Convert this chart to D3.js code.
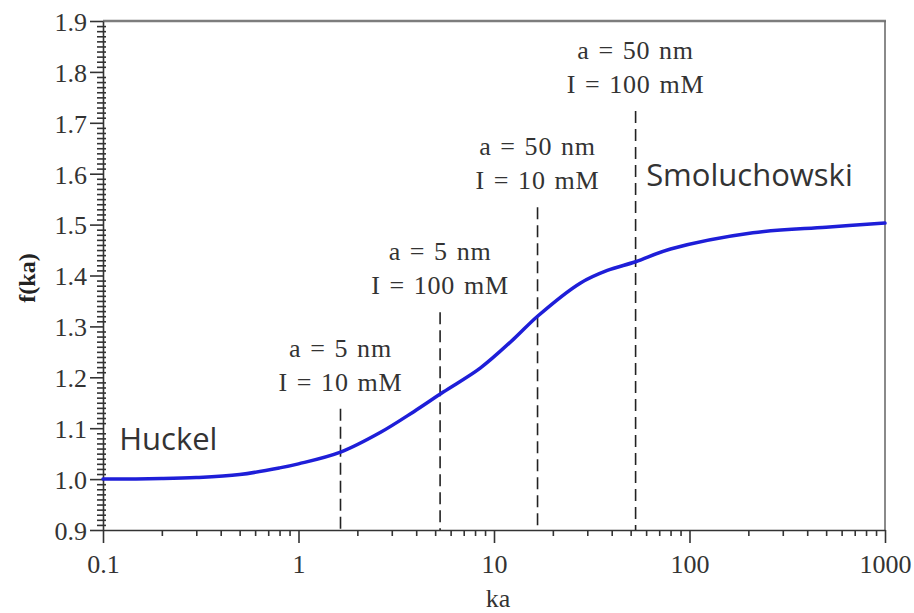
<!DOCTYPE html>
<html>
<head>
<meta charset="utf-8">
<script src="https://cdn.jsdelivr.net/npm/d3@7"></script>
<style>
  html, body { margin: 0; padding: 0; background: #fff; }
  svg { display: block; }
</style>
</head>
<body>
<svg id="chart" width="914" height="613"></svg>
<script>
// ---- data ----
const kaValues = [0.1, 0.2, 0.3, 0.5, 0.8, 1, 1.64, 2.63, 3.87, 5.5, 8.5, 12.6, 16.7, 27.6, 38, 53, 80, 211, 500, 1000];
const fValues  = [1.000, 1.001, 1.003, 1.009, 1.022, 1.030, 1.053, 1.092, 1.132, 1.171, 1.218, 1.275, 1.320, 1.385, 1.410, 1.427, 1.452, 1.484, 1.495, 1.503];
const markerKa    = [1.64, 5.3, 16.7, 53];
const markerTop   = [1.138, 1.328, 1.534, 1.723];
const markerLine1 = ["a = 5 nm", "a = 5 nm", "a = 50 nm", "a = 50 nm"];
const markerLine2 = ["I = 10 mM", "I = 100 mM", "I = 10 mM", "I = 100 mM"];
const xMajorTicks = [0.1, 1, 10, 100, 1000];
const xTickLabels = ["0.1", "1", "10", "100", "1000"];
const yMajorTicks = [0.9, 1.0, 1.1, 1.2, 1.3, 1.4, 1.5, 1.6, 1.7, 1.8, 1.9];
const yTickLabels = ["0.9", "1.0", "1.1", "1.2", "1.3", "1.4", "1.5", "1.6", "1.7", "1.8", "1.9"];
const regionLabels = ["Huckel", "Smoluchowski"];
const regionKa = [0.121, 60];
const regionF  = [1.057, 1.575];

// ---- layout ----
const svg = d3.select("#chart");
const L = 103, R = 885, T = 21, B = 530;
const x = d3.scaleLog().domain([0.1, 1000]).range([L, R]);
const y = d3.scaleLinear().domain([0.9, 1.9]).range([B, T]);
const serif = "'Liberation Serif', 'Times New Roman', serif";
const sans = "'Open Sans', 'Noto Sans', sans-serif";

// minor ticks
const xMinor = [];
[0.1, 1, 10, 100].forEach(d => { for (let k = 2; k <= 9; k++) xMinor.push(d * k); });
const yMinor = d3.range(90, 191).map(v => v / 100).filter(v => Math.round(v * 100) % 10 !== 0);

// frame: top and right lines (grey)
svg.append("line").attr("x1", L).attr("x2", R + 1).attr("y1", T).attr("y2", T)
  .attr("stroke", "#7d7d7d").attr("stroke-width", 2.5);
svg.append("line").attr("x1", R).attr("x2", R).attr("y1", T).attr("y2", B)
  .attr("stroke", "#6d6d6d").attr("stroke-width", 1.6);

// x axis
const gxMinor = svg.append("g").attr("transform", `translate(0,${B})`)
  .call(d3.axisBottom(x).tickValues(xMinor).tickSize(6).tickFormat(""));
gxMinor.select(".domain").remove();
const gx = svg.append("g").attr("transform", `translate(0,${B})`)
  .call(d3.axisBottom(x).tickValues(xMajorTicks).tickSize(13).tickSizeOuter(0)
    .tickFormat((d, i) => xTickLabels[i]));
gx.selectAll("text").attr("font-family", serif).attr("font-size", 26).attr("fill", "#333").attr("dy", "1.05em");

// y axis
const gyMinor = svg.append("g").attr("transform", `translate(${L + 3},0)`)
  .call(d3.axisLeft(y).tickValues(yMinor).tickSize(9).tickFormat(""));
gyMinor.select(".domain").remove();
const gy = svg.append("g").attr("transform", `translate(${L},0)`)
  .call(d3.axisLeft(y).tickValues(yMajorTicks).tickSize(13).tickSizeOuter(0)
    .tickFormat((d, i) => yTickLabels[i]));
gy.selectAll("text").attr("font-family", serif).attr("font-size", 26).attr("fill", "#333").attr("dy", "0.36em").attr("x", -16);

svg.selectAll(".domain").attr("stroke", "#333").attr("stroke-width", 1.6);
svg.selectAll(".tick line").attr("stroke", "#333").attr("stroke-width", 1.6);

// dashed marker lines
markerKa.forEach((k, i) => {
  svg.append("line")
    .attr("x1", x(k)).attr("x2", x(k))
    .attr("y1", y(markerTop[i])).attr("y2", B)
    .attr("stroke", "#222").attr("stroke-width", 1.6)
    .attr("stroke-dasharray", "12,6");
  const t = svg.append("text")
    .attr("x", x(k)).attr("y", y(markerTop[i]) - 52)
    .attr("text-anchor", "middle")
    .attr("font-family", serif).attr("font-size", 26).attr("fill", "#333")
    .attr("letter-spacing", 0.8).attr("word-spacing", 1.5);
  t.append("tspan").attr("x", x(k)).text(markerLine1[i]);
  t.append("tspan").attr("x", x(k)).attr("dy", 34).text(markerLine2[i]);
});

// curve
const pts = kaValues.map((k, i) => [k, fValues[i]]);
svg.append("path")
  .datum(pts)
  .attr("fill", "none")
  .attr("stroke", "#1e1ed8")
  .attr("stroke-width", 3.5)
  .attr("stroke-linecap", "round")
  .attr("d", d3.line().x(d => x(d[0])).y(d => y(d[1])).curve(d3.curveCatmullRom.alpha(0.5)));

// region labels
regionLabels.forEach((lab, i) => {
  svg.append("text")
    .attr("x", x(regionKa[i])).attr("y", y(regionF[i]))
    .attr("font-family", sans).attr("font-size", 31).attr("fill", "#333")
    .text(lab);
});

// axis titles
svg.append("text")
  .attr("transform", "translate(35,278) rotate(-90)")
  .attr("text-anchor", "middle")
  .attr("font-family", serif).attr("font-size", 24).attr("font-weight", "bold").attr("fill", "#222")
  .text("f(ka)");
svg.append("text")
  .attr("x", x(10) + 4).attr("y", 607)
  .attr("text-anchor", "middle")
  .attr("font-family", serif).attr("font-size", 26).attr("fill", "#333")
  .text("ka");
</script>
</body>
</html>
